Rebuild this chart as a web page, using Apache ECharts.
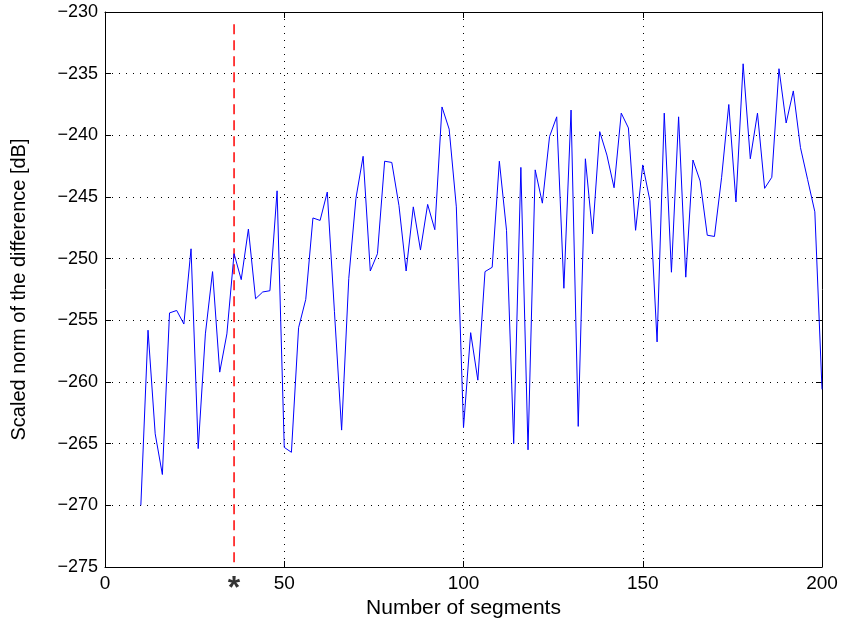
<!DOCTYPE html>
<html>
<head>
<meta charset="utf-8">
<script src="https://cdn.jsdelivr.net/npm/echarts@6/dist/echarts.min.js"></script>
<style>
  html, body { margin: 0; padding: 0; background: #fff; }
  #chart { width: 843px; height: 629px; }
</style>
</head>
<body>
<div id="chart"></div>
<script>
// segments 10..200, step 2
const segments = [
  10, 12, 14, 16, 18, 20, 22, 24, 26, 28, 30, 32, 34, 36, 38, 40, 42, 44, 46, 48,
  50, 52, 54, 56, 58, 60, 62, 64, 66, 68, 70, 72, 74, 76, 78, 80, 82, 84, 86, 88,
  90, 92, 94, 96, 98, 100, 102, 104, 106, 108, 110, 112, 114, 116, 118, 120, 122, 124, 126, 128,
  130, 132, 134, 136, 138, 140, 142, 144, 146, 148, 150, 152, 154, 156, 158, 160, 162, 164, 166, 168,
  170, 172, 174, 176, 178, 180, 182, 184, 186, 188, 190, 192, 194, 196, 198, 200
];
const normDiff = [
  -270.0, -255.8, -264.2, -267.5, -254.4, -254.2, -255.3, -249.2, -265.4, -256.1,
  -251.05, -259.2, -256.1, -249.6, -251.7, -247.6, -253.25, -252.7, -252.6, -244.5,
  -265.3, -265.7, -255.6, -253.3, -246.7, -246.9, -244.6, -254.3, -263.9, -251.6,
  -245.1, -241.7, -251.0, -249.6, -242.1, -242.2, -245.7, -251.0, -245.8, -249.3,
  -245.6, -247.65, -237.7, -239.5, -245.8, -263.7, -256.0, -259.85, -251.05, -250.7,
  -242.1, -247.7, -265.0, -242.6, -265.5, -242.8, -245.5, -240.1, -238.5, -252.4,
  -237.95, -263.6, -241.9, -248.0, -239.7, -241.6, -244.25, -238.2, -239.4, -247.7,
  -242.4, -245.3, -256.75, -238.2, -251.1, -238.5, -251.5, -242.0, -243.7, -248.1,
  -248.2, -243.4, -237.5, -245.4, -234.2, -241.9, -238.2, -244.3, -243.4, -234.6,
  -239.0, -236.4, -241.0, -243.6, -246.2, -260.6
];
const chosenSegments = 36;
const markerRange = [-231, -275];

const minus = v => String(v).replace('-', '\u2212');
const font = 'Liberation Sans, Arial, Helvetica, sans-serif';

const chart = echarts.init(document.getElementById('chart'));

const gridLine = { show: true, lineStyle: { color: '#000', type: [1, 6], width: 1 } };
const axisLine = { show: true, onZero: false, lineStyle: { color: '#000', width: 1 } };
const tick = { show: true, inside: true, length: 6, lineStyle: { color: '#000' } };

chart.setOption({
  animation: false,
  backgroundColor: '#fff',
  grid: { left: 105, right: 21, top: 12, bottom: 62 },
  xAxis: [
    {
      type: 'value', min: 0, max: 200, interval: 50,
      name: 'Number of segments', nameLocation: 'middle', nameGap: 31,
      nameTextStyle: { fontFamily: font, fontSize: 21, color: '#000' },
      axisLine, axisTick: tick, splitLine: gridLine,
      axisLabel: { fontFamily: font, fontSize: 19, color: '#000', margin: 7 }
    },
    {
      type: 'value', min: 0, max: 200, interval: 50, position: 'top',
      axisLine, axisTick: tick, splitLine: { show: false }, axisLabel: { show: false }
    }
  ],
  yAxis: [
    {
      type: 'value', min: -275, max: -230, interval: 5,
      name: 'Scaled norm of the difference [dB]', nameLocation: 'middle', nameGap: 76,
      nameTextStyle: { fontFamily: font, fontSize: 20, color: '#000' },
      axisLine, axisTick: tick, splitLine: gridLine,
      axisLabel: { fontFamily: font, fontSize: 18, color: '#000', margin: 7, formatter: minus }
    },
    {
      type: 'value', min: -275, max: -230, interval: 5, position: 'right',
      axisLine, axisTick: tick, splitLine: { show: false }, axisLabel: { show: false }
    }
  ],
  series: [
    {
      type: 'line',
      data: segments.map((s, i) => [s, normDiff[i]]),
      showSymbol: false,
      lineStyle: { color: '#0000ff', width: 1 },
      z: 3
    },
    {
      type: 'line',
      data: markerRange.map(v => [chosenSegments, v]),
      showSymbol: false,
      lineStyle: { color: '#ff0000', width: 1.5, type: [10, 6], opacity: 1 },
      z: 2
    },
    {
      type: 'scatter',
      data: [[chosenSegments, -275]],
      symbolSize: 0,
      clip: false,
      silent: true,
      label: {
        show: true, position: 'bottom', distance: 6, formatter: '*',
        fontFamily: font, fontSize: 32, fontWeight: 'bold', color: '#000'
      }
    }
  ]
});
</script>
</body>
</html>
